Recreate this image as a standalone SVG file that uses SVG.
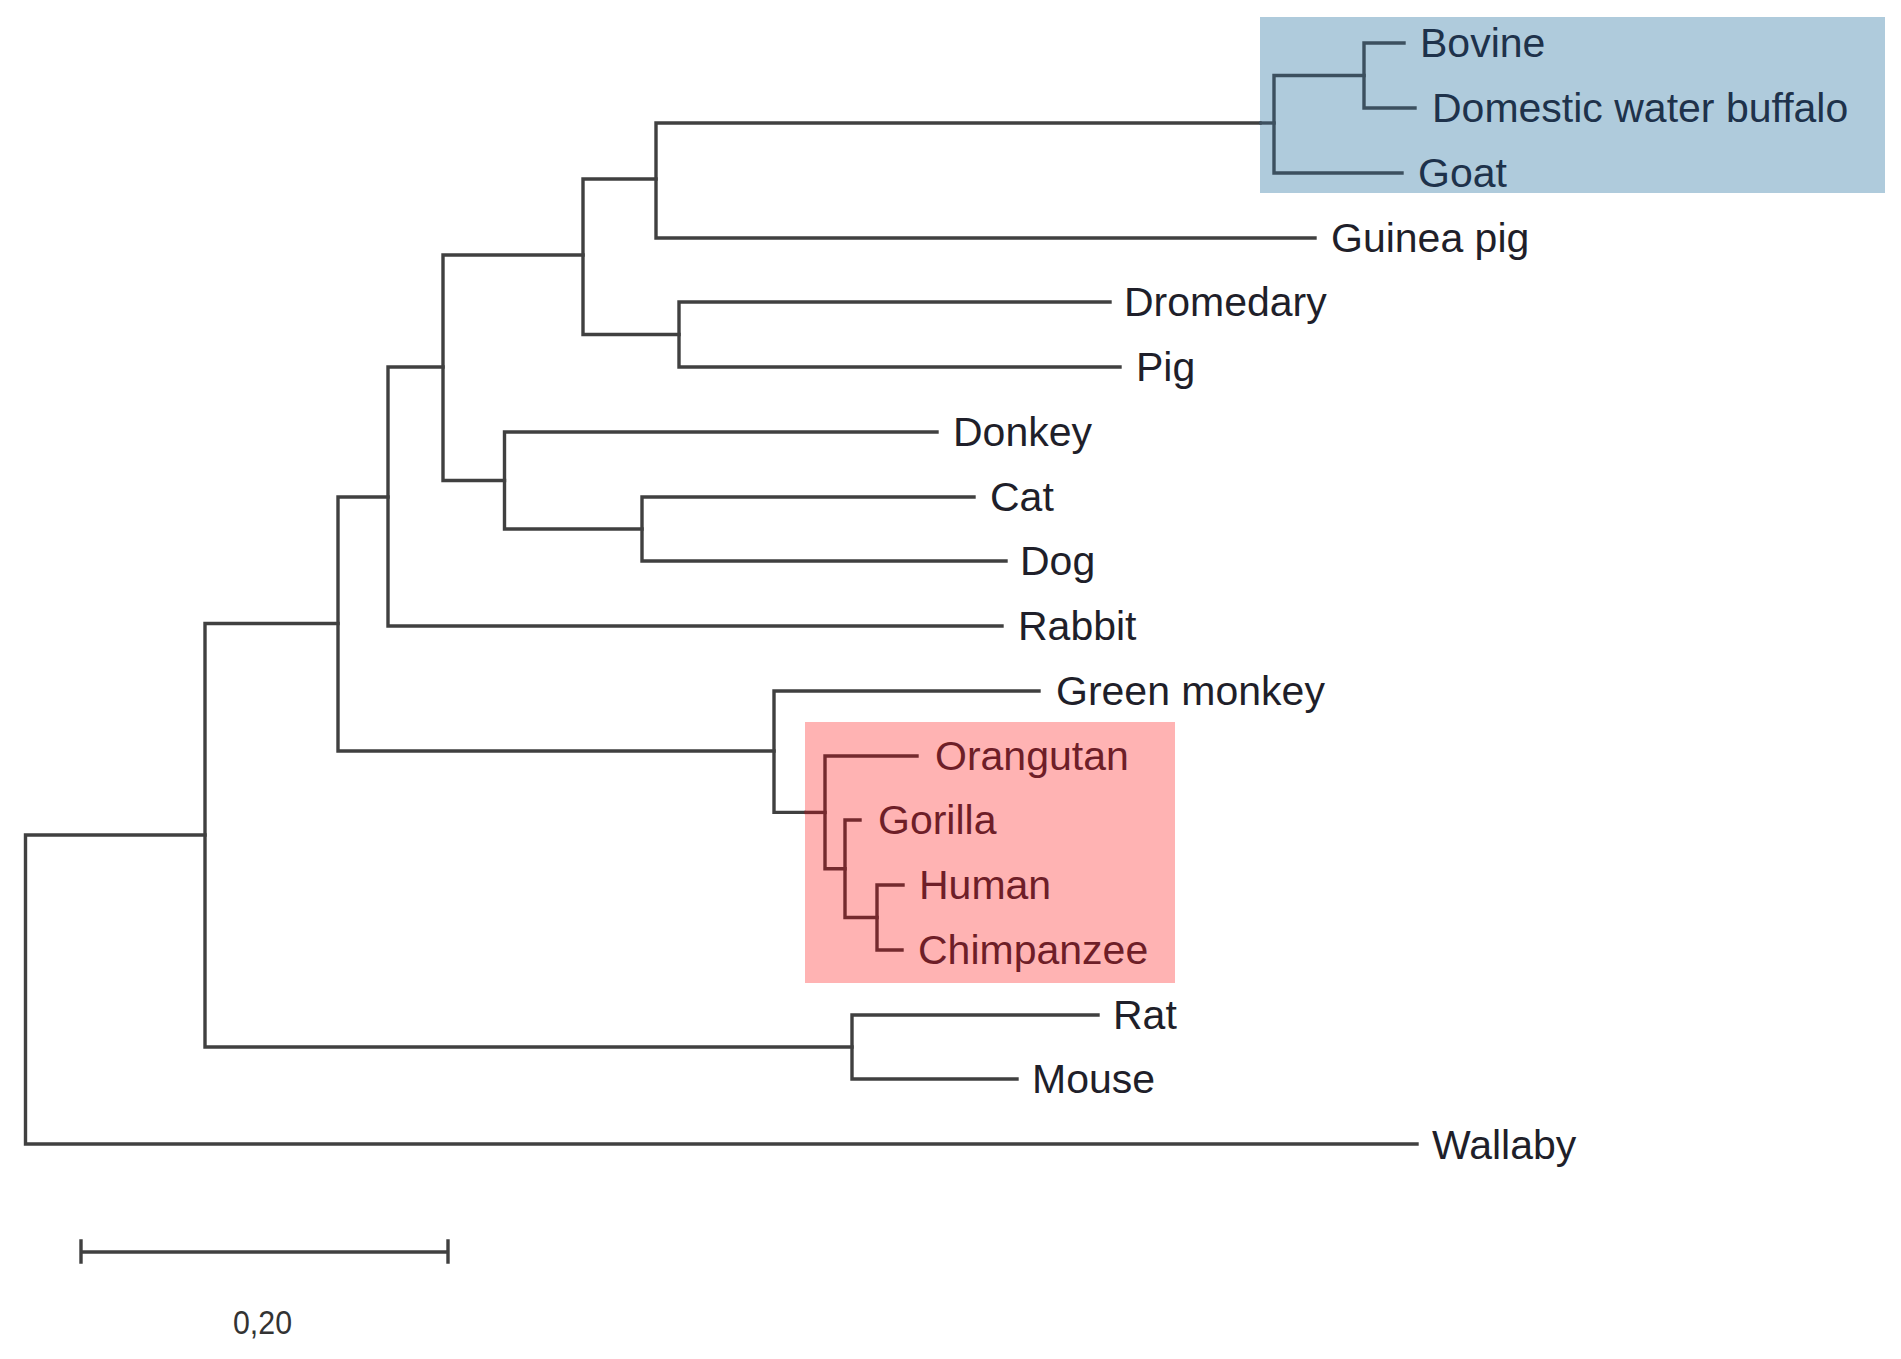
<svg xmlns="http://www.w3.org/2000/svg" width="1901" height="1359" viewBox="0 0 1901 1359">
<style>
.br{fill:none;stroke:#404040;stroke-width:3.4;stroke-linecap:square}
.brb{fill:none;stroke:#3c505f;stroke-width:3.4;stroke-linecap:square}
.brp{fill:none;stroke:#742a2e;stroke-width:3.4;stroke-linecap:square}
.t{font-family:"Liberation Sans",Arial,sans-serif;font-size:41px;fill:#1f1f2a}
.tb{fill:#1e324b}
.tp{fill:#6e1e28}
</style>
<rect width="1901" height="1359" fill="#ffffff"/>
<g id="highlights">
<rect id="box-bovids" x="1260" y="17" width="625" height="176" fill="#afcbdc"/>
<rect id="box-apes" x="805" y="722" width="370" height="261" fill="#ffb3b3"/>
</g>
<g id="connectors">
<path class="brb" d="M1364,43 V108 M1364,43 H1404 M1364,108 H1415"/>
<path class="brb" d="M1274,75.5 V173 M1274,75.5 H1364 M1274,173 H1402"/>
<path class="br" d="M656,123 V238 M656,238 H1315 M656,123 H1260"/>
<path class="brb" d="M1261,123 H1274"/>
<path class="br" d="M679,302 V367 M679,302 H1110 M679,367 H1120"/>
<path class="br" d="M583,179 V334.5 M583,179 H656 M583,334.5 H679"/>
<path class="br" d="M642,497 V561 M642,497 H974 M642,561 H1006"/>
<path class="br" d="M504.5,432 V529 M504.5,432 H937 M504.5,529 H642"/>
<path class="br" d="M443,255 V480.5 M443,255 H583 M443,480.5 H504.5"/>
<path class="br" d="M388,367 V626 M388,367 H443 M388,626 H1002"/>
<path class="brp" d="M877,885 V950 M877,885 H903 M877,950 H902"/>
<path class="brp" d="M845,820 V917.5 M845,820 H860 M845,917.5 H877"/>
<path class="brp" d="M825,756 V868.75 M825,756 H917 M825,868.75 H845"/>
<path class="br" d="M774,691 V812.4 M774,691 H1039 M774,812.4 H804"/>
<path class="brp" d="M806,812.4 H825"/>
<path class="br" d="M338,497 V751 M338,497 H388 M338,751 H774"/>
<path class="br" d="M852,1015 V1079 M852,1015 H1098 M852,1079 H1017"/>
<path class="br" d="M205,623.5 V1047 M205,623.5 H338 M205,1047 H852"/>
<path class="br" d="M25.5,835 V1144 M25.5,835 H205 M25.5,1144 H1417"/>
</g>
<g id="labels">
<text id="bovine" class="t tb" x="1420" y="57">Bovine</text>
<text id="buffalo" class="t tb" x="1432" y="122">Domestic water buffalo</text>
<text id="goat" class="t tb" x="1418" y="187">Goat</text>
<text id="guinea-pig" class="t" x="1331" y="252">Guinea pig</text>
<text id="dromedary" class="t" x="1124" y="316">Dromedary</text>
<text id="pig" class="t" x="1136" y="381">Pig</text>
<text id="donkey" class="t" x="953" y="446">Donkey</text>
<text id="cat" class="t" x="990" y="511">Cat</text>
<text id="dog" class="t" x="1020" y="575">Dog</text>
<text id="rabbit" class="t" x="1018" y="640">Rabbit</text>
<text id="green-monkey" class="t" x="1056" y="705">Green monkey</text>
<text id="orangutan" class="t tp" x="935" y="770">Orangutan</text>
<text id="gorilla" class="t tp" x="878" y="834">Gorilla</text>
<text id="human" class="t tp" x="919" y="899">Human</text>
<text id="chimpanzee" class="t tp" x="918" y="964">Chimpanzee</text>
<text id="rat" class="t" x="1113" y="1029">Rat</text>
<text id="mouse" class="t" x="1032" y="1093">Mouse</text>
<text id="wallaby" class="t" x="1432" y="1159">Wallaby</text>
</g>
<g id="scale-bar">
<path class="br" d="M81,1252 H448 M81,1241 V1262 M448,1241 V1262" stroke-linecap="butt"/>
<text x="233" y="1334" font-family="'Liberation Sans',Arial,sans-serif" font-size="34" fill="#333" textLength="59" lengthAdjust="spacingAndGlyphs">0,20</text>
</g>
</svg>
